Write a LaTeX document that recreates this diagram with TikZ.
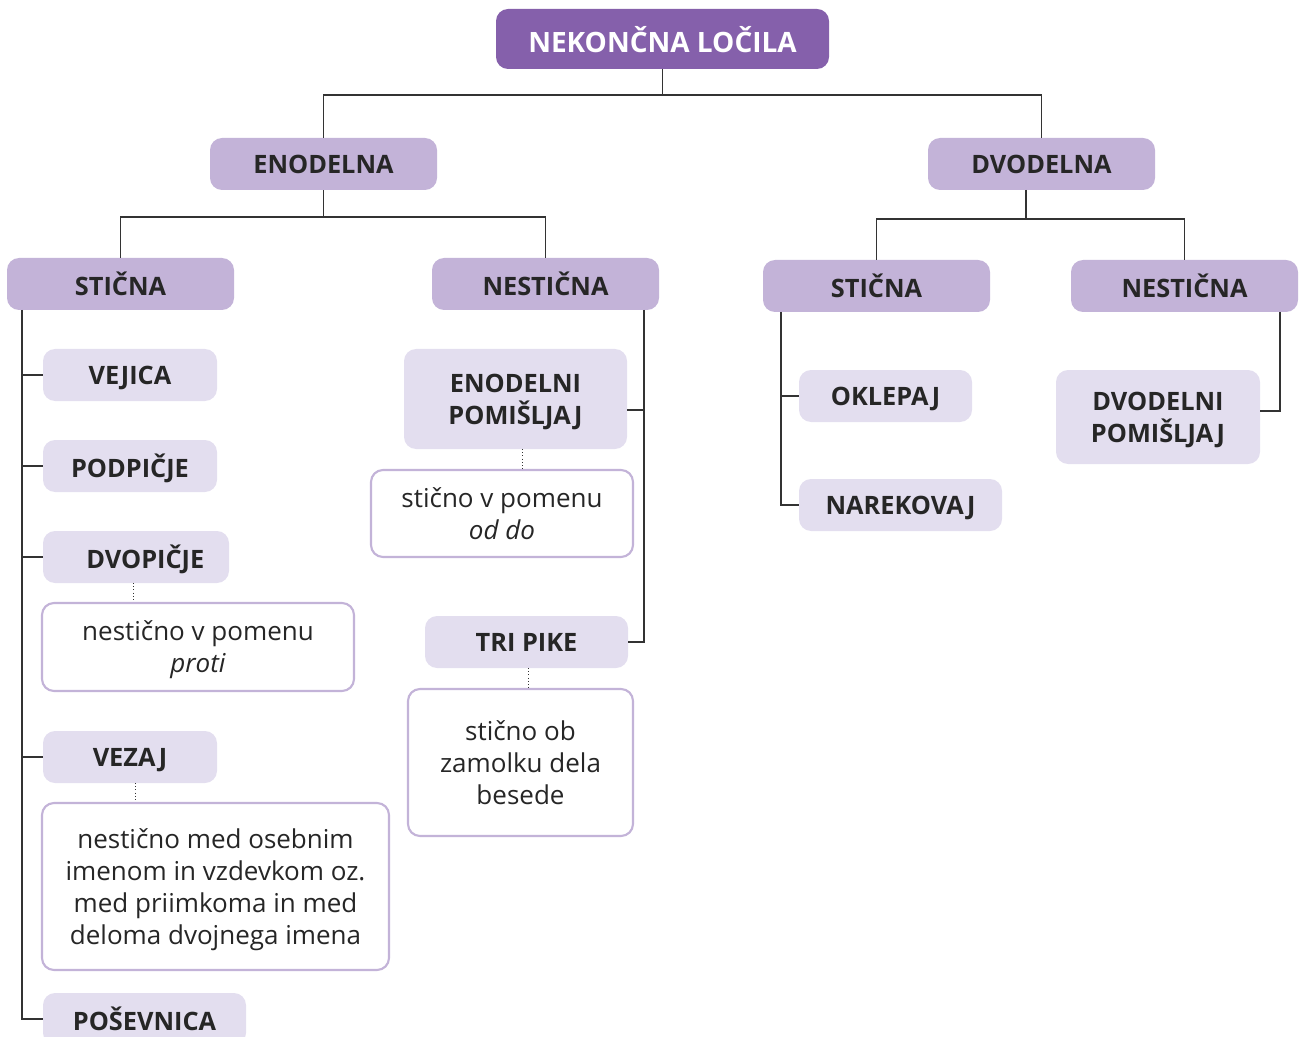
\documentclass[tikz,border=0pt]{standalone}
\usepackage{fontspec}
\setmainfont{Open Sans}
\definecolor{cdark}{HTML}{8560AB}
\definecolor{cmid}{HTML}{C3B3D8}
\definecolor{clight}{HTML}{E3DEEF}
\definecolor{cline}{HTML}{333333}
\tikzset{
  box/.style={rounded corners=9pt, inner sep=0pt, align=center, text depth=0pt},
  topbox/.style={box, fill=cdark, text=white, font=\fontsize{21}{26}\selectfont\bfseries},
  midbox/.style={box, fill=cmid, text=black!85, font=\fontsize{19}{24}\selectfont\bfseries},
  leafbox/.style={box, fill=clight, text=black!85, font=\fontsize{19}{24}\selectfont\bfseries},
  notebox/.style={box, draw=cmid, line width=1.6pt, fill=white, text=black!85, font=\fontsize{19.5}{24}\selectfont},
  conn/.style={draw=cline, line width=1.1pt},
  dots/.style={draw=cline, line width=0.7pt, dash pattern=on 0.8pt off 1.6pt},
  bx/.style 2 args={minimum width=#1*0.75pt, minimum height=#2*0.75pt},
}
\begin{document}
\begin{tikzpicture}[x=0.75pt, y=-0.75pt]
\useasboundingbox (0,0) rectangle (1302,1037);
% level 0
\node[topbox, bx={333}{60}] (top) at (662.5,39) {NEKONČNA LOČILA};
% level 1
\node[midbox, bx={227}{52}] (enod) at (323.5,164) {ENODELNA};
\node[midbox, bx={227}{52}] (dvod) at (1041.5,164) {DVODELNA};
% level 2
\node[midbox, bx={227}{52}] (lst) at (120.5,284) {STIČNA};
\node[midbox, bx={227}{52}] (lnst) at (545.5,284) {NESTIČNA};
\node[midbox, bx={227}{52}] (rst) at (876.5,286) {STIČNA};
\node[midbox, bx={227}{52}] (rnst) at (1184.5,286) {NESTIČNA};
% left column
\node[leafbox, bx={174}{52}] (vejica) at (130,375) {VEJICA};
\node[leafbox, bx={174}{52}] (podpicje) at (130,466) {PODPIČJE};
\node[leafbox, bx={186}{52}] (dvopicje) at (136,557) {\hspace*{14pt}DVOPIČJE};
\node[notebox, bx={312}{88}] (note1) at (198,647) {nestično v pomenu\\\textit{proti}};
\node[leafbox, bx={174}{52}] (vezaj) at (130,757) {VEZAJ};
\node[notebox, bx={347}{167}] (note2) at (215.5,886.5) {nestično med osebnim\\imenom in vzdevkom oz.\\med priimkoma in med\\deloma dvojnega imena};
\node[leafbox, bx={203}{52}] (posev) at (144.5,1019) {POŠEVNICA};
% middle column
\node[leafbox, bx={223}{100}] (enpom) at (515.5,399) {ENODELNI\\POMIŠLJAJ};
\node[notebox, bx={262}{87}] (note3) at (502,513.5) {stično v pomenu\\\textit{od do}};
\node[leafbox, bx={203}{52}] (tripike) at (526.5,642) {TRI PIKE};
\node[notebox, bx={225}{147}] (note4) at (520.5,762.5) {stično ob\\zamolku dela\\besede};
% right columns
\node[leafbox, bx={173}{52}] (oklepaj) at (885.5,396) {OKLEPAJ};
\node[leafbox, bx={203}{52}] (narekovaj) at (900.5,505) {NAREKOVAJ};
\node[leafbox, bx={204}{94}] (dvpom) at (1158,417) {DVODELNI\\POMIŠLJAJ};
% tree connectors
\coordinate (j0) at (662.5,95);
\draw[conn] (top.south) -- (j0);
\draw[conn] (enod.north) |- (j0) -| (dvod.north);
\coordinate (j1) at (323.5,217);
\draw[conn] (enod.south) -- (j1);
\draw[conn] (lst.north) |- (j1) -| (lnst.north);
\coordinate (j2) at (1026,219);
\coordinate (j2t) at (1026,190);
\draw[conn] (j2t) -- (j2);
\draw[conn] (rst.north) |- (j2) -| (rnst.north);
% left spine
\coordinate (ls) at (22,310);
\draw[conn] (ls) |- (posev.west);
\draw[conn] (ls |- vejica.west) -- (vejica.west);
\draw[conn] (ls |- podpicje.west) -- (podpicje.west);
\draw[conn] (ls |- dvopicje.west) -- (dvopicje.west);
\draw[conn] (ls |- vezaj.west) -- (vezaj.west);
% middle spine
\coordinate (ms) at (644,310);
\draw[conn] (ms) |- (tripike.east);
\coordinate (eb) at (644,410);
\draw[conn] (eb) -- (eb -| enpom.east);
% right stična spine
\coordinate (rs) at (781,312);
\draw[conn] (rs) |- (narekovaj.west);
\draw[conn] (rs |- oklepaj.west) -- (oklepaj.west);
% right nestična spine
\coordinate (rn) at (1280,312);
\coordinate (rb) at (1280,411);
\draw[conn] (rn) -- (rb) -- (rb -| dvpom.east);
% dotted links to notes
\coordinate (d1) at (133,583);
\draw[dots] (d1) -- (d1 |- note1.north);
\coordinate (d2) at (135,783);
\draw[dots] (d2) -- (d2 |- note2.north);
\coordinate (d3) at (522,449);
\draw[dots] (d3) -- (d3 |- note3.north);
\coordinate (d4) at (528,668);
\draw[dots] (d4) -- (d4 |- note4.north);
\end{tikzpicture}
\end{document}
